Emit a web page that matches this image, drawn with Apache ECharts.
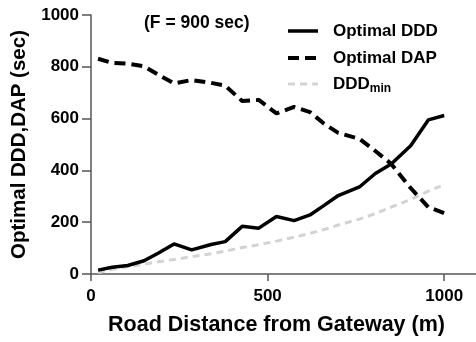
<!DOCTYPE html>
<html>
<head>
<meta charset="utf-8">
<script src="https://cdn.jsdelivr.net/npm/echarts@6/dist/echarts.min.js"></script>
<style>
  html, body { margin: 0; padding: 0; background: #fff; }
  #chart { width: 476px; height: 342px; }
</style>
</head>
<body>
<div id="chart"></div>
<script>
// Road distance from the gateway (m) at which each value was computed
const distance = [20, 60, 104, 150, 190, 235, 285, 340, 380, 428, 475, 525, 575, 620, 660, 700, 760, 805, 850, 905, 955, 1000];
// Optimal DDD (sec)
const optimalDDD = [15, 26, 33, 51, 80, 116, 93, 114, 125, 184, 177, 222, 206, 228, 265, 303, 336, 388, 425, 495, 595, 612];
// Optimal DAP (sec)
const optimalDAP = [831, 815, 812, 802, 770, 736, 749, 738, 727, 668, 672, 620, 645, 625, 580, 545, 522, 475, 425, 332, 258, 235];
// DDD_min (sec)
const dddMin = [5, 18, 28, 38, 47, 56, 67, 78, 88, 102, 113, 127, 142, 157, 172, 189, 212, 233, 258, 288, 320, 345];

const xTicks = [0, 500, 1000];
const titleText = '(F = 900 sec)';
const legendNames = ['Optimal DDD', 'Optimal DAP', 'DDD'];

const pairs = ys => distance.map((d, i) => [d, ys[i]]);
const FONT = '"Liberation Sans", Arial, sans-serif';
const AXIS_COLOR = '#555';
const plain = v => String(v);

const chart = echarts.init(document.getElementById('chart'), null, { renderer: 'canvas' });

// Legend drawn as graphic rows: sample line + label
const legendRows = [
  { y: 31, dash: null, color: '#000', width: 3.5, text: legendNames[0] },
  { y: 58, dash: [11, 6], color: '#000', width: 4, text: legendNames[1] },
  { y: 84, dash: [7, 5], color: '#d3d3d3', width: 3, text: legendNames[2], sub: 'min' }
];
const legendGraphics = [];
legendRows.forEach(r => {
  legendGraphics.push({
    type: 'line',
    shape: { x1: 288, y1: r.y, x2: 318, y2: r.y },
    style: { stroke: r.color, lineWidth: r.width, lineDash: r.dash || null }
  });
  legendGraphics.push({
    type: 'text',
    x: 333, y: r.y,
    style: {
      text: r.sub ? '{m|' + r.text + '}{s|' + r.sub + '}' : r.text,
      font: 'bold 17px ' + FONT,
      fill: '#000',
      verticalAlign: 'middle',
      rich: {
        m: { fontSize: 17, fontWeight: 'bold', fontFamily: FONT, fill: '#000' },
        s: { fontSize: 12, fontWeight: 'bold', fontFamily: FONT, fill: '#000', padding: [10, 0, 0, 0] }
      }
    }
  });
});

chart.setOption({
  animation: false,
  backgroundColor: '#fff',
  title: {
    text: titleText,
    left: 139, top: 9,
    textStyle: { fontFamily: FONT, fontWeight: 'bold', fontSize: 17.5, color: '#000' }
  },
  grid: { left: 91, right: 0, top: 15, bottom: 68, containLabel: false },
  xAxis: {
    type: 'value',
    min: 0, max: 1090,
    name: 'Road Distance from Gateway (m)',
    nameLocation: 'middle',
    nameGap: 40,
    nameTextStyle: { fontFamily: FONT, fontWeight: 'bold', fontSize: 21.5, color: '#000', padding: [0, 14, 0, 0] },
    axisLine: { show: true, onZero: false, lineStyle: { color: AXIS_COLOR, width: 1.5 } },
    axisTick: { show: true, length: 7, customValues: xTicks, lineStyle: { color: AXIS_COLOR, width: 1.5 } },
    axisLabel: { customValues: xTicks, formatter: plain, margin: 14, fontFamily: FONT, fontWeight: 'bold', fontSize: 17, color: '#000' },
    splitLine: { show: false }
  },
  yAxis: {
    type: 'value',
    min: 0, max: 1000, interval: 200,
    name: 'Optimal DDD,DAP (sec)',
    nameLocation: 'middle',
    nameGap: 58,
    nameTextStyle: { fontFamily: FONT, fontWeight: 'bold', fontSize: 20.5, color: '#000' },
    axisLine: { show: true, lineStyle: { color: AXIS_COLOR, width: 1.5 } },
    axisTick: { show: true, length: 9, lineStyle: { color: AXIS_COLOR, width: 1.5 } },
    axisLabel: { formatter: plain, margin: 12, fontFamily: FONT, fontWeight: 'bold', fontSize: 17, color: '#000' },
    splitLine: { show: false }
  },
  series: [
    {
      name: 'Optimal DDD (min)', type: 'line', data: pairs(dddMin),
      symbol: 'none', z: 1,
      lineStyle: { color: '#d3d3d3', width: 3, type: [7, 5] }
    },
    {
      name: 'Optimal DAP', type: 'line', data: pairs(optimalDAP),
      symbol: 'none', z: 2,
      lineStyle: { color: '#000', width: 4, type: [11, 6] }
    },
    {
      name: 'Optimal DDD', type: 'line', data: pairs(optimalDDD),
      symbol: 'none', z: 3,
      lineStyle: { color: '#000', width: 3.5 }
    }
  ],
  graphic: legendGraphics
});
</script>
</body>
</html>
